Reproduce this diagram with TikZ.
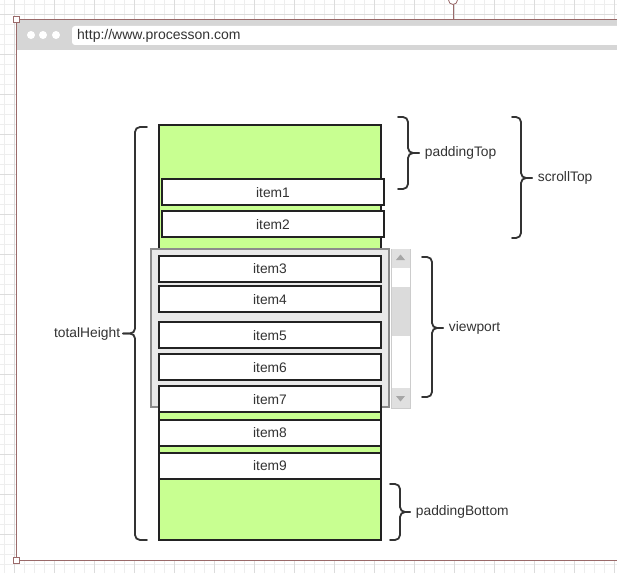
\documentclass[tikz,border=0pt]{standalone}
\usepackage{fontspec}
\setmainfont{Liberation Sans}
\usepackage{tikz}

\definecolor{leaf}{RGB}{200,255,145}
\definecolor{edge}{HTML}{222222}
\definecolor{txtgray}{HTML}{333333}
\definecolor{vpfill}{HTML}{E9E9E9}
\definecolor{vpedge}{HTML}{8C8C8C}
\definecolor{barbg}{HTML}{D6D6D6}
\definecolor{frame}{HTML}{9A6A6A}
\definecolor{gridminor}{HTML}{EEEEEE}
\definecolor{gridmajor}{HTML}{DCDCDC}

\begin{document}
\begin{tikzpicture}[
        x=1pt, y=-1pt,
        every node/.style={font=\fontsize{13.8}{16}\selectfont, text=txtgray},
        item/.style={draw=edge, fill=white, line width=2pt,
            minimum width=222pt, minimum height=26pt, inner sep=0pt},
        brc/.style={draw=txtgray, line width=1.8pt, rounded corners=5pt, line cap=round},
        handle/.style={draw=frame, fill=white, line width=0.8pt}
    ]
        \useasboundingbox (0,0) rectangle (617,572);
        \clip (0,0) rectangle (617,572);
        % background grid
        \draw[gridminor, line width=0.6pt, step=10pt, xshift=4pt, yshift=-4pt] (-20,-20) grid (640,600);
        \draw[gridmajor, line width=0.6pt, step=40pt, xshift=14pt, yshift=-14pt] (-40,-40) grid (680,640);
        % browser window
        \fill[white] (16,19) rectangle (660,560);
        \fill[barbg] (16,19) rectangle (660,50);
        \draw[frame, line width=0.8pt] (16,19) rectangle (660,560);
        \fill[white, rounded corners=3pt] (72,26) rectangle (680,45);
        \fill[white] (31,35) circle (4) (43,35) circle (4) (56,35) circle (4);
        \node[anchor=west, inner sep=0pt, font=\fontsize{14}{16}\selectfont] (url) at (77,36) {http://www.processon.com};
        \draw[frame, line width=0.8pt] (453,4.5) -- (453,19);
        \draw[handle] (453,0) circle (4.5);
        \draw[handle] (13,16) rectangle (19,22);
        \draw[handle] (13,557) rectangle (19,563);
        % list column
        \node[draw=edge, fill=leaf, line width=2pt, minimum width=222pt, minimum height=415pt] (col) at (270,332.5) {};
        \node[item] (item1) at (273,192.3) {item1};
        \node[item] (item2) at (273,224.4) {item2};
        % viewport and scrollbar
        \node[draw=vpedge, fill=vpfill, line width=2pt, minimum width=238pt, minimum height=158pt] (vport) at (270,327.8) {};
        \node[draw=black!20, fill=white, line width=1pt, minimum width=19pt, minimum height=159pt, anchor=north west] (sbar) at (391,248.5) {};
        \fill[black!12] (391.5,249) rectangle (409.5,268);
        \fill[black!12] (391.5,388) rectangle (409.5,407.5);
        \fill[black!14] (391.5,287) rectangle (409.5,336);
        \fill[black!35] (400.5,254.5) -- (405,260) -- (396,260) -- cycle;
        \fill[black!35] (400.5,401.5) -- (405,396) -- (396,396) -- cycle;
        \node[item] (item3) at (270,268.5) {item3};
        \node[item] (item4) at (270,299.4) {item4};
        \node[item] (item5) at (270,335.4) {item5};
        \node[item] (item6) at (270,367.2) {item6};
        \node[item] (item7) at (270,399.3) {item7};
        \node[item] (item8) at (270,433) {item8};
        \node[item] (item9) at (270,465.7) {item9};
        % braces
        \draw[brc] (147,127) -| (135,333.5) -- (123,333.5) node[left, inner sep=2pt] (total) {totalHeight};
        \draw[brc] (123,333.5) -- (135,333.5) |- (147,540);
        \draw[brc] (398,117) -| (408,153) -- (419,153) node[right, inner sep=5pt] (padtop) {paddingTop};
        \draw[brc] (419,153) -- (408,153) |- (398,189);
        \draw[brc] (512,117) -| (521,178) -- (532,178) node[right, inner sep=5pt] (stop) {scrollTop};
        \draw[brc] (532,178) -- (521,178) |- (512,238);
        \draw[brc] (422,257) -| (432,328) -- (443,328) node[right, inner sep=5pt] (vlabel) {viewport};
        \draw[brc] (443,328) -- (432,328) |- (422,397);
        \draw[brc] (390,484) -| (400,512) -- (410,512) node[right, inner sep=5pt] (padbot) {paddingBottom};
        \draw[brc] (410,512) -- (400,512) |- (390,540);
    \end{tikzpicture}
\end{document}
